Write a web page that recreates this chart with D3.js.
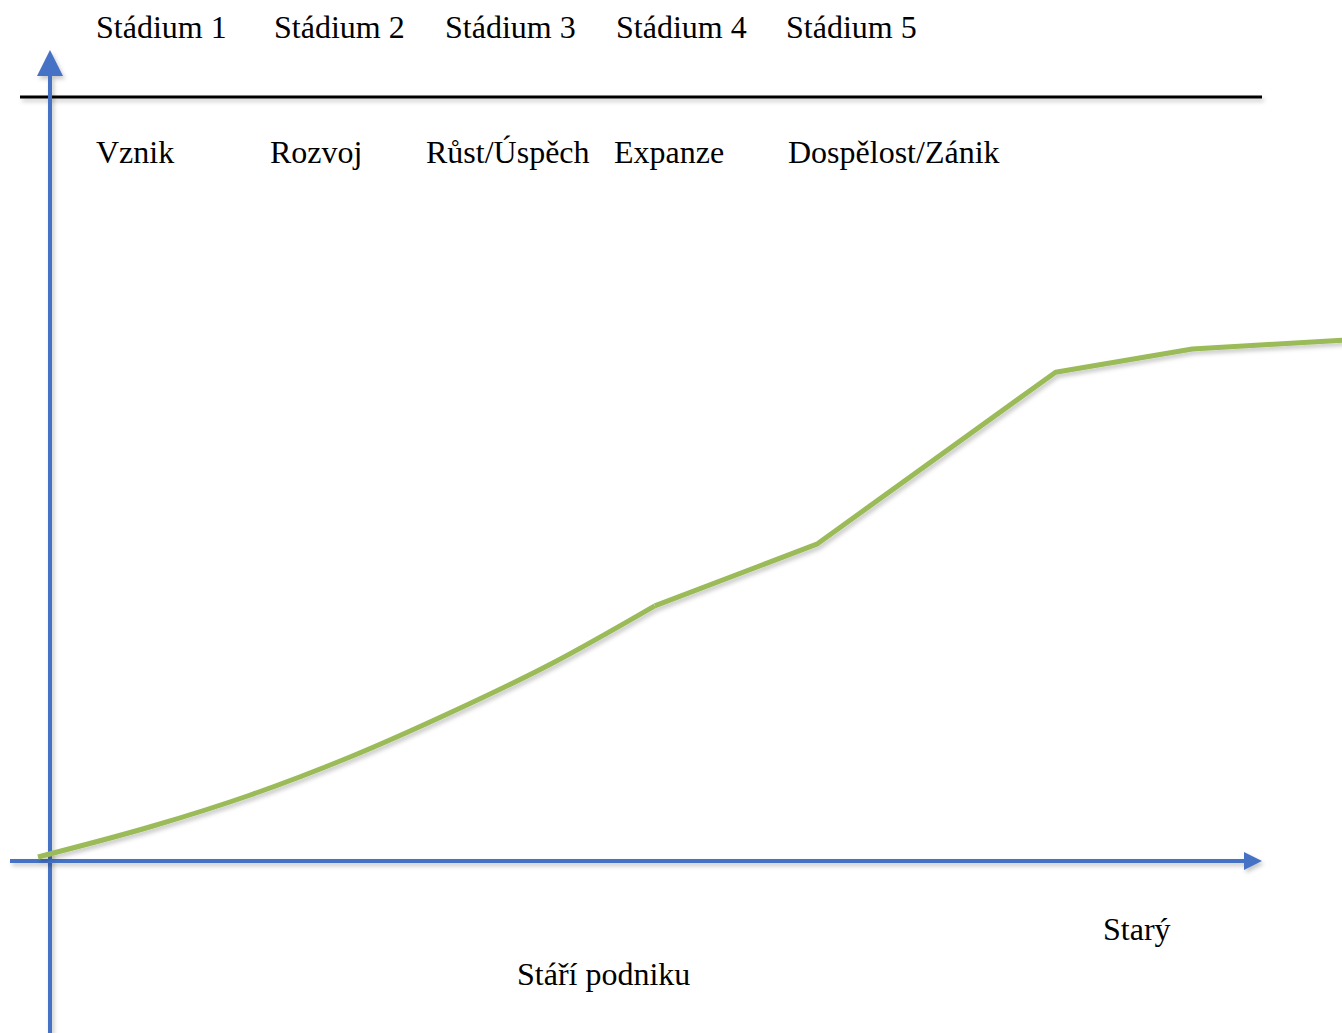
<!DOCTYPE html>
<html lang="cs">
  <head>
    <meta charset="utf-8">
    <title>Stádia životního cyklu podniku</title>
    <script src="https://d3js.org/d3.v7.js"></script>
    <style>
      body { margin: 0; background: #fff; }
      text { font-family: "Liberation Serif", "Times New Roman", serif; fill: #000; }
    </style>
  </head>
  <body>
  <script>

  // data
  var stages = ["Stádium 1", "Stádium 2", "Stádium 3", "Stádium 4", "Stádium 5"];
  var phases = ["Vznik", "Rozvoj", "Růst/Úspěch", "Expanze", "Dospělost/Zánik"];
  // smooth early part of the curve (age, size)
  var earlyAge  = [-1.0, 8.3, 16.7, 25.0, 33.3, 41.7, 50.4];
  var earlySize = [0.5, 4.25, 8.25, 13.0, 18.5, 24.6, 31.9];
  // later part, straight segments
  var lateAge  = [50.4, 63.9, 83.8, 95.2, 107.7];
  var lateSize = [31.9, 39.6, 61.1, 64.0, 65.1];
  var xTitle = "Stáří podniku";
  var xEndLabel = "Starý";

  // layout
  var w = 1342, h = 1033;
  var stageX = [96, 274, 445, 616, 786];
  var phaseX = [96, 270, 426, 614, 788];
  var blue = "#4472C4", green = "#9BBB59";
  var fontSize = "32px";

  var svg = d3.select("body")
    .append("svg")
      .attr("width", w)
      .attr("height", h);

  // soft drop shadow (user space so flat lines still render)
  var f = svg.append("defs").append("filter").attr("id", "shadow")
      .attr("filterUnits", "userSpaceOnUse")
      .attr("x", 0).attr("y", 0).attr("width", w).attr("height", h);
  f.append("feDropShadow")
      .attr("dx", 2).attr("dy", 3).attr("stdDeviation", 2)
      .attr("flood-color", "#000").attr("flood-opacity", 0.22);

  var xScale = d3.scaleLinear().domain([0, 100]).range([50, 1250]);
  var yScale = d3.scaleLinear().domain([0, 100]).range([861, 61]);

  // top separator line
  svg.append("line")
      .attr("x1", 20).attr("x2", 1262)
      .attr("y1", 97).attr("y2", 97)
      .attr("stroke", "#000").attr("stroke-width", 3)
      .attr("filter", "url(#shadow)");

  // y axis with arrow
  var gy = svg.append("g").attr("filter", "url(#shadow)");
  gy.append("line")
      .attr("x1", xScale(0)).attr("x2", xScale(0))
      .attr("y1", h).attr("y2", 70)
      .attr("stroke", blue).attr("stroke-width", 4);
  gy.append("path")
      .attr("d", `M${xScale(0)},50 L${xScale(0) - 13},76 L${xScale(0) + 13},76 Z`)
      .attr("fill", blue);

  // x axis with arrow
  var gx = svg.append("g").attr("filter", "url(#shadow)");
  gx.append("line")
      .attr("x1", 10).attr("x2", 1246)
      .attr("y1", yScale(0)).attr("y2", yScale(0))
      .attr("stroke", blue).attr("stroke-width", 4);
  gx.append("path")
      .attr("d", `M1262,${yScale(0)} L1244,${yScale(0) - 9} L1244,${yScale(0) + 9} Z`)
      .attr("fill", blue);

  // curve
  var early = earlyAge.map((a, i) => ({age: a, size: earlySize[i]}));
  var late = lateAge.map((a, i) => ({age: a, size: lateSize[i]}));

  var smoothLine = d3.line()
      .x(d => xScale(d.age))
      .y(d => yScale(d.size))
      .curve(d3.curveCatmullRom.alpha(0.5));
  var straightLine = d3.line()
      .x(d => xScale(d.age))
      .y(d => yScale(d.size));

  var gc = svg.append("g").attr("filter", "url(#shadow)");
  gc.append("path")
      .attr("d", smoothLine(early))
      .attr("fill", "none").attr("stroke", green)
      .attr("stroke-width", 5).attr("stroke-linejoin", "round");
  gc.append("path")
      .attr("d", straightLine(late))
      .attr("fill", "none").attr("stroke", green)
      .attr("stroke-width", 5).attr("stroke-linejoin", "round");

  // labels
  svg.selectAll(".stage")
      .data(stages)
      .join("text")
      .attr("class", "stage")
      .attr("x", (d, i) => stageX[i])
      .attr("y", 38)
      .style("font-size", fontSize)
      .text(d => d);

  svg.selectAll(".phase")
      .data(phases)
      .join("text")
      .attr("class", "phase")
      .attr("x", (d, i) => phaseX[i])
      .attr("y", 163)
      .style("font-size", fontSize)
      .text(d => d);

  svg.append("text")
      .attr("x", 1103).attr("y", 940)
      .style("font-size", fontSize)
      .text(xEndLabel);

  svg.append("text")
      .attr("x", 517).attr("y", 985)
      .style("font-size", fontSize)
      .text(xTitle);

  </script>
  </body>
</html>
